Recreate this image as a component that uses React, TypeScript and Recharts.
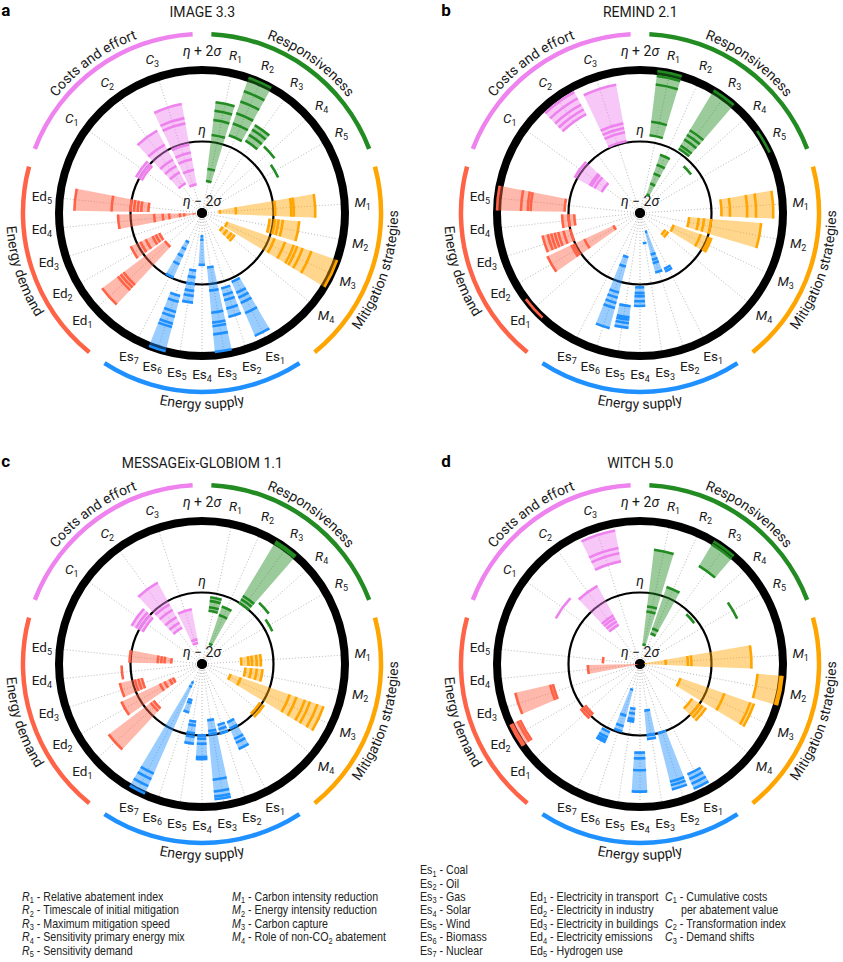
import React from "react"
import {
  RadialBarChart, RadialBar, PolarAngleAxis, PolarRadiusAxis, PolarGrid,
  PieChart, Pie, Cell, Sector,
} from "recharts"

const CATEGORIES = [
  "R1", "R2", "R3", "R4", "R5",
  "M1", "M2", "M3", "M4",
  "Es1", "Es2", "Es3", "Es4", "Es5", "Es6", "Es7",
  "Ed1", "Ed2", "Ed3", "Ed4", "Ed5",
  "C1", "C2", "C3",
]
const GROUP_NAMES = ["Responsiveness", "Mitigation strategies", "Energy supply", "Energy demand", "Costs and effort"]
const GROUP_SIZES = [5, 4, 7, 5, 3]
const GROUP_COLORS = ["#228b22", "#ffa500", "#1e90ff", "#ff6347", "#ee82ee"]

const PANEL_LETTERS = ["a", "b", "c", "d"]
const PANEL_TITLES = ["IMAGE 3.3", "REMIND 2.1", "MESSAGEix-GLOBIOM 1.1", "WITCH 5.0"]

// scenario scores, in sigma around eta, one list per indicator R1 … C3
const IMAGE_SCORES = [
  [-1.1, -0.76, 0.2, 0.62, 0.88, 1.12],
  [0.3, 0.65, 0.95, 1.3, 1.6, 2.0],
  [0.36, 0.55, 0.72, 0.87],
  [0.54],
  [0.35],
  [-1.5, -1.05, 0.05, 0.5, 0.57, 1.17],
  [-0.1, 0.05, 0.15, 0.27, 0.73],
  [-1.25, 0.15, 0.46, 0.72, 0.82, 0.98, 1.24, 2.0],
  [-1.3, -1.15, -1.0, -0.9],
  [0.1, 0.43, 0.58, 0.74, 1.05, 1.74],
  [0.18, 0.37, 0.52, 0.76, 1.0],
  [-0.47, 0.18, 0.8, 1.08, 1.18, 1.41, 1.9],
  [-1.35, -1.25, -0.55],
  [-0.38, -0.19, 0.0, 0.19, 0.33, 0.52],
  [0.4, 0.57, 0.86, 1.0, 1.2, 1.3, 2.0],
  [-1.1, -0.89, -0.68, -0.43, -0.03],
  [-0.7, 0.75, 0.85, 0.95, 1.5],
  [-0.68, -0.57, -0.47, -0.26, -0.1, 0.2],
  [],
  [-1.78, -1.5, -1.38, -1.08, -0.9, -0.66, 0.35],
  [-0.5, -0.3, -0.2, -0.1, 0.0, 0.53, 1.57],
  [-0.08, 0.0, 0.1],
  [-1.05, -0.7, -0.5, -0.3, 0.18, 0.62],
  [-1.18, -0.77, -0.47, -0.28, -0.05, 0.55, 0.7, 1.1],
]

const REMIND_SCORES = [
  [0.19, 0.57, 1.62, 1.86, 2.0],
  [-1.45, -1.13, -0.83, -0.57, -0.28],
  [0.1, 0.2, 0.4, 0.55, 0.7, 2.0],
  [-0.21],
  [2.0],
  [0.28, 0.52, 1.0, 1.25, 1.73],
  [-0.62, -0.35, -0.2, 0.0, 1.4],
  [-1.0, -0.2, 0.05, 0.12],
  [-1.15, -1.05],
  [-0.3, -0.22],
  [-1.45, -0.8, -0.65, -0.55, -0.28],
  [-1.15],
  [0.08, 0.24, 0.33, 0.47, 0.6],
  [0.62, 0.93, 1.0, 1.1, 1.23],
  [-0.72, -0.45, 0.3, 0.45, 0.6, 0.75, 1.33],
  [],
  [2.0],
  [-1.18, -0.28, 0.05, 0.12, 0.86],
  [0.0, 0.2, 0.35, 0.45, 0.55, 0.65, 0.8],
  [-0.16, 0.0, 0.18],
  [0.11, 1.06, 1.14, 1.33, 2.0],
  [-0.78, -0.55, -0.45, -0.4, 0.08],
  [1.15, 1.3, 1.45, 1.65, 1.85],
  [0.05, 0.3, 0.42, 0.55, 1.65],
]

const MESSAGE_SCORES = [
  [-0.5, -0.4, -0.22, -0.12],
  [-1.4, -0.55, -0.3],
  [0.0, 0.12, 0.22, 1.95, 2.0],
  [0.34],
  [0.17],
  [-0.9, -0.7, -0.6, -0.47, -0.35],
  [-0.78, -0.62, -0.46, -0.3],
  [-1.15, -0.85, 0.6, 0.8, 1.05, 1.2, 1.42, 1.6],
  [-0.05, 0.08],
  [-0.22, -0.04, 0.28, 0.4, 0.59],
  [-0.24, -0.12, 0.01],
  [-0.42, -0.12, -0.03, 1.25, 1.58, 1.72, 1.8],
  [0.0, 0.09, 0.23, 0.6, 0.66],
  [-0.38, -0.27, -0.05, 0.05, 0.24],
  [-0.95, -0.87, -0.6],
  [-1.42, -1.3, 1.35, 1.52, 1.73, 1.96],
  [-0.3, -0.2, 1.27],
  [-1.1, -1.0, -0.84, -0.7, 0.49],
  [-0.27, -0.17, -0.07, 0.36],
  [0.25],
  [-1.14, -0.95, -0.86, -0.76, 0.03],
  [-0.11, 0.0, 0.1, 0.24],
  [-0.84, -0.68, -0.51, -0.28, -0.1, 0.59],
  [-1.4, -1.3, -0.44],
]

const WITCH_SCORES = [
  [-1.45, -0.52, -0.38, 1.22],
  [-1.1, -0.95, 0.28],
  [1.2, 1.9, 2.0],
  [-0.1],
  [1.0],
  [-1.85, -1.28, -0.66, -0.56, 1.12],
  [1.3, 1.95, 2.0],
  [-0.8, 0.5, 1.27, 1.38],
  [-0.25, 0.0, 0.1, 0.22],
  [1.36, 1.5, 1.65, 1.8],
  [0.0, 1.4, 1.5, 1.62],
  [-0.69, 0.0, 0.11],
  [0.48, 0.64, 0.97, 1.57],
  [-0.74, -0.6, -0.45, -0.38],
  [-1.25, -0.5, -0.2, -0.05],
  [0.09, 0.24, 0.32, 0.39],
  [-0.08, 0.0, 0.08],
  [1.7, 1.78, 1.95, 2.0],
  [0.5, 0.58, 1.58],
  [-1.9, -0.54],
  [-0.96],
  [0.68],
  [-0.75, -0.64, -0.54, -0.45, 0.49],
  [0.92, 1.15, 1.3, 1.8],
]

const PANEL_SCORES = [IMAGE_SCORES, REMIND_SCORES, MESSAGE_SCORES, WITCH_SCORES]

const LEGEND_R = ["Relative abatement index", "Timescale of initial mitigation", "Maximum mitigation speed", "Sensitivity primary energy mix", "Sensitivity demand"]
const LEGEND_M = ["Carbon intensity reduction", "Energy intensity reduction", "Carbon capture", "Role of non-CO_2 abatement"]
const LEGEND_ES = ["Coal", "Oil", "Gas", "Solar", "Wind", "Biomass", "Nuclear"]
const LEGEND_ED = ["Electricity in transport", "Electricity in industry", "Electricity in buildings", "Electricity emissions", "Hydrogen use"]
const LEGEND_C = ["Cumulative costs", "Transformation index", "Demand shifts"]

// radial scale: centre = eta - 2 sigma, outer ring = eta + 2 sigma
const SCORE_MIN = -2
const SCORE_SPAN = 4
const DOT = 0.14

const SIZE = 420
const C = 210
const R_OUT = 143
const PANEL_CENTERS = [[202.3, 213], [640.3, 213], [202.3, 664], [640.3, 664]]
const FONT = "Roboto, 'Liberation Sans', Arial, sans-serif"
const LEGEND_FONT = "'Liberation Sans', Arial, sans-serif"
const SQUEEZE = 0.82
const NO_MARGIN = { top: 0, right: 0, bottom: 0, left: 0 }
const RAD = Math.PI / 180

const GROUP_OFFSETS = GROUP_SIZES.map((_, g) => GROUP_SIZES.slice(0, g).reduce((a, b) => a + b, 0))
const MAX_POINTS = Math.max(...PANEL_SCORES.flat().map((l) => l.length))
const SEG_KEYS = Array.from({ length: MAX_POINTS }, (_, k) => `s${k}`)
const CENTER_ROW = [{ k: "centre", dot: DOT }]
const GROUP_ROWS = GROUP_NAMES.map((name) => ({ name, w: 1 }))

// each group takes 72 degrees and its indicators sit on n+1 equal steps.
// the clockwise band scale draws band i anticlockwise of its tick, so bars start one step
// further round than the ticks, and the ticks half a step.
function groupStep(g: number) {
  return 72 / (GROUP_SIZES[g] + 1)
}
function barAngles(g: number) {
  const step = groupStep(g), top = 90 - 72 * g
  return [top - 1.5 * step, top - 72 - 0.5 * step]
}
function tickAngles(g: number) {
  const step = groupStep(g), top = 90 - 72 * g
  return [top - step, top - 72]
}

function groupCats(g: number) {
  return CATEGORIES.slice(GROUP_OFFSETS[g], GROUP_OFFSETS[g] + GROUP_SIZES[g])
}

function groupRows(scores: number[][], g: number) {
  const start = GROUP_OFFSETS[g]
  return groupCats(g).map((cat, i) => {
    const pts = [...scores[start + i]].sort((a, b) => a - b)
    const row: Record<string, any> = { cat }
    pts.forEach((p, k) => {
      row[`s${k}`] = k === 0 ? p - SCORE_MIN : p - pts[k - 1]
    })
    return row
  })
}

function segmentShape(k: number, color: string) {
  return (props: any) => {
    const { cx, cy, innerRadius, outerRadius, startAngle, endAngle, payload } = props
    if (!payload || payload[`s${k}`] == null) return <g />
    return (
      <g>
        {k > 0 && (
          <Sector cx={cx} cy={cy} innerRadius={innerRadius} outerRadius={outerRadius}
            startAngle={startAngle} endAngle={endAngle} fill={color} fillOpacity={0.45} />
        )}
        <Sector cx={cx} cy={cy} innerRadius={Math.max(0, outerRadius - 1.3)} outerRadius={outerRadius + 1.3}
          startAngle={startAngle} endAngle={endAngle} fill={color} />
      </g>
    )
  }
}

function CategoryTick(props: any) {
  const { x, y, payload } = props
  const name = String(payload.value)
  const head = name.slice(0, -1)
  const italic = head === "R" || head === "M" || head === "C"
  return (
    <text x={x} y={y + 4.5} textAnchor="middle" fontFamily={FONT} fontSize={13.5} fill="#1a1a1a">
      <tspan fontStyle={italic ? "italic" : "normal"}>{head}</tspan>
      <tspan fontSize={9} dy={3}>{name.slice(-1)}</tspan>
    </text>
  )
}

function LevelTick(props: any) {
  const { x, y, payload } = props
  const v = payload.value
  const sign = v === 0 ? " \u2212 2" : v === 4 ? " + 2" : ""
  const lift = v === 0 ? 7.5 : v === 2 ? 6.5 : 14
  return (
    <text x={x} y={y - lift} textAnchor="middle" fontFamily={FONT} fontSize={14} fill="#1a1a1a">
      <tspan fontStyle="italic">η</tspan>
      {sign ? <tspan>{sign}</tspan> : null}
      {sign ? <tspan fontStyle="italic">σ</tspan> : null}
    </text>
  )
}

function groupLabel(panel: number) {
  return (props: any) => {
    const { cx, cy, midAngle, index } = props
    const top = Math.sin(midAngle * RAD) > 0
    const r = top ? 186 : 196
    const a0 = top ? midAngle + 50 : midAngle - 50
    const a1 = top ? midAngle - 50 : midAngle + 50
    const x0 = cx + r * Math.cos(a0 * RAD), y0 = cy - r * Math.sin(a0 * RAD)
    const x1 = cx + r * Math.cos(a1 * RAD), y1 = cy - r * Math.sin(a1 * RAD)
    const id = `grp-${panel}-${index}`
    return (
      <g key={id}>
        <path id={id} d={`M${x0},${y0} A${r},${r} 0 0 ${top ? 1 : 0} ${x1},${y1}`} fill="none" stroke="none" />
        <text fontFamily={FONT} fontSize={14} fill="#1a1a1a">
          <textPath href={`#${id}`} startOffset="50%" textAnchor="middle">{GROUP_NAMES[index]}</textPath>
        </text>
      </g>
    )
  }
}

const layer: React.CSSProperties = { position: "absolute", left: 0, top: 0 }

function LevelChart({ ticks, width }: { ticks: number[]; width: number }) {
  return (
    <RadialBarChart width={SIZE} height={SIZE} cx={C} cy={C} innerRadius={0} outerRadius={R_OUT}
      layout="centric" data={CENTER_ROW} startAngle={90} endAngle={-270} barCategoryGap="0%" margin={NO_MARGIN}>
      <PolarGrid gridType="circle" radialLines={false} stroke="#000" strokeWidth={width} />
      <PolarAngleAxis type="category" dataKey="k" tick={false} tickLine={false} axisLine={false} />
      <PolarRadiusAxis type="number" domain={[0, SCORE_SPAN]} allowDataOverflow angle={90}
        ticks={ticks} tick={LevelTick} axisLine={false} />
      <RadialBar dataKey="dot" fill="#000" isAnimationActive={false} />
    </RadialBarChart>
  )
}

// dotted spokes and indicator names
function FrameChart({ g }: { g: number }) {
  const [startAngle, endAngle] = tickAngles(g)
  return (
    <RadialBarChart width={SIZE} height={SIZE} cx={C} cy={C} innerRadius={0} outerRadius={R_OUT}
      layout="centric" data={groupCats(g).map((cat) => ({ cat }))} startAngle={startAngle} endAngle={endAngle}
      margin={NO_MARGIN}>
      <PolarGrid gridType="circle" polarRadius={[]} innerRadius={9} stroke="#b0b0b0" strokeWidth={0.9} strokeDasharray="1 2" />
      <PolarAngleAxis type="category" dataKey="cat" tick={CategoryTick} tickSize={18} tickLine={false} axisLine={false} />
      <PolarRadiusAxis type="number" domain={[0, SCORE_SPAN]} tick={false} axisLine={false} />
      <RadialBar dataKey="none" fill="none" isAnimationActive={false} />
    </RadialBarChart>
  )
}

function GroupChart({ panel, g }: { panel: number; g: number }) {
  const [startAngle, endAngle] = barAngles(g)
  const color = GROUP_COLORS[g]
  return (
    <RadialBarChart width={SIZE} height={SIZE} cx={C} cy={C} innerRadius={0} outerRadius={R_OUT}
      layout="centric" data={groupRows(PANEL_SCORES[panel], g)} startAngle={startAngle} endAngle={endAngle}
      barCategoryGap="8.5%" margin={NO_MARGIN}>
      <PolarAngleAxis type="category" dataKey="cat" tick={false} tickLine={false} axisLine={false} />
      <PolarRadiusAxis type="number" domain={[0, SCORE_SPAN]} allowDataOverflow tick={false} axisLine={false} />
      {SEG_KEYS.map((key, k) => (
        <RadialBar key={key} dataKey={key} stackId="scores" isAnimationActive={false} shape={segmentShape(k, color)} />
      ))}
    </RadialBarChart>
  )
}

function Panel({ panel }: { panel: number }) {
  const [cx, cy] = PANEL_CENTERS[panel]
  return (
    <div style={{ position: "absolute", left: cx - C, top: cy - C, width: SIZE, height: SIZE }}>
      {GROUP_SIZES.map((_, g) => (
        <div key={`f${g}`} style={layer}><FrameChart g={g} /></div>
      ))}
      <div style={layer}><LevelChart ticks={[0, 2]} width={2.2} /></div>
      <div style={layer}><LevelChart ticks={[SCORE_SPAN]} width={8} /></div>
      <div style={layer}>
        <PieChart width={SIZE} height={SIZE} margin={NO_MARGIN}>
          <Pie data={GROUP_ROWS} dataKey="w" cx={C} cy={C} innerRadius={176.8} outerRadius={181.3}
            startAngle={87} endAngle={-273} paddingAngle={6} stroke="none" isAnimationActive={false}
            label={groupLabel(panel)} labelLine={false}>
            {GROUP_COLORS.map((c) => <Cell key={c} fill={c} />)}
          </Pie>
        </PieChart>
      </div>
      {GROUP_SIZES.map((_, g) => (
        <div key={`b${g}`} style={layer}><GroupChart panel={panel} g={g} /></div>
      ))}
    </div>
  )
}

function subParts(text: string) {
  return text.split(/_(\d)/).map((part, i) =>
    i % 2 === 1
      ? <tspan key={i} fontSize={9} dy={2.5}>{part}</tspan>
      : <tspan key={i} dy={i === 0 ? 0 : -2.5}>{part}</tspan>
  )
}

function LegendLine({ x, y, head, italic, n, text }: { x: number; y: number; head: string; italic: boolean; n: number; text: string }) {
  return (
    <text x={x / SQUEEZE} y={y} fontFamily={LEGEND_FONT} fontSize={13} fill="#222">
      <tspan fontStyle={italic ? "italic" : "normal"}>{head}</tspan>
      <tspan fontSize={9} dy={2.5}>{n}</tspan>
      <tspan dy={-2.5}>{" - "}</tspan>
      {subParts(text)}
    </text>
  )
}

export default function App() {
  const step = 13.4
  const base = 901
  return (
    <div style={{ position: "absolute", left: 0, top: 0, width: 843, height: 962, background: "#fff", overflow: "hidden" }}>
      <svg width={843} height={962} style={layer}>
        {PANEL_CENTERS.map(([cx, cy], i) => (
          <g key={i}>
            <text x={cx - C + 9 + (i % 2 ? 2 : 0)} y={cy - 197} fontFamily={FONT} fontSize={17} fontWeight={700} fill="#000">{PANEL_LETTERS[i]}</text>
            <text x={cx} y={cy - 196.5} textAnchor="middle" fontFamily={FONT} fontSize={14} fill="#1a1a1a">{PANEL_TITLES[i]}</text>
          </g>
        ))}
        <g transform={`scale(${SQUEEZE} 1)`}>
          {LEGEND_R.map((t, i) => <LegendLine key={t} x={22} y={base + i * step} head="R" italic n={i + 1} text={t} />)}
          {LEGEND_M.map((t, i) => <LegendLine key={t} x={232} y={base + i * step} head="M" italic n={i + 1} text={t} />)}
          {LEGEND_ES.map((t, i) => <LegendLine key={t} x={420} y={base + (i - 2) * step} head="Es" italic={false} n={i + 1} text={t} />)}
          {LEGEND_ED.map((t, i) => <LegendLine key={t} x={530} y={base + i * step} head="Ed" italic={false} n={i + 1} text={t} />)}
          {LEGEND_C.map((t, i) => <LegendLine key={t} x={665} y={base + (i === 0 ? 0 : i + 1) * step} head="C" italic n={i + 1} text={t} />)}
          <text x={681 / SQUEEZE} y={base + step} fontFamily={LEGEND_FONT} fontSize={13} fill="#222">per abatement value</text>
        </g>
      </svg>
      {PANEL_CENTERS.map((_, i) => <Panel key={i} panel={i} />)}
    </div>
  )
}
